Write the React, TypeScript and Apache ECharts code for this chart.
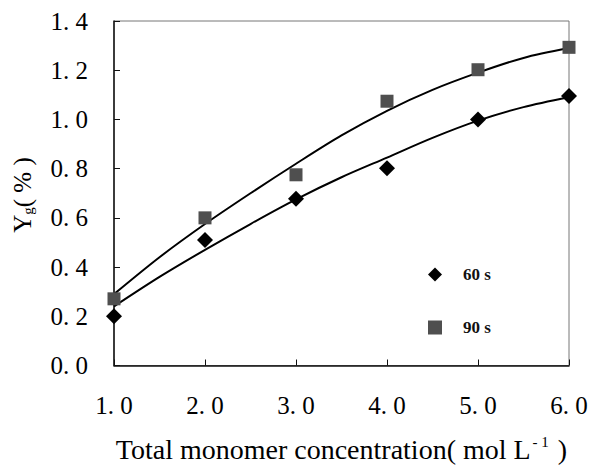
import React, { useEffect, useRef } from "react";
import * as echarts from "echarts";

// Measured grafting yields at each total monomer concentration
const concentrations = [1, 2, 3, 4, 5, 6];
const yield60s = [0.2, 0.51, 0.678, 0.802, 1.0, 1.095];
const yield90s = [0.271, 0.6, 0.775, 1.074, 1.202, 1.293];

// Trend curves drawn through each data set
const curveX = [1, 1.5, 2, 2.5, 3, 3.5, 4, 4.5, 5, 5.5, 6];
const curve60s = [0.24, 0.36, 0.47, 0.575, 0.675, 0.765, 0.845, 0.925, 0.995, 1.05, 1.09];
const curve90s = [0.29, 0.44, 0.575, 0.7, 0.82, 0.935, 1.035, 1.12, 1.19, 1.25, 1.29];

const SERIF = "'Liberation Serif', 'Times New Roman', serif";

const fmtTick = (v: number) => v.toFixed(1).replace(".", ".\u00a0");

export default function App() {
  const ref = useRef<HTMLDivElement>(null);

  useEffect(() => {
    if (!ref.current) return;
    const chart = echarts.init(ref.current, undefined, { renderer: "svg" });
    const pairs = (xs: number[], ys: number[]) => xs.map((x, i) => [x, ys[i]]);

    chart.setOption({
      animation: false,
      backgroundColor: "#fff",
      grid: {
        left: 114,
        right: 22,
        top: 21,
        bottom: 98,
        show: true,
        borderColor: "#777",
        borderWidth: 1,
      },
      legend: {
        data: ["60 s", "90 s"],
        orient: "vertical",
        left: 423,
        top: 261,
        itemGap: 36,
        itemWidth: 14,
        itemHeight: 14,
        textStyle: {
          fontFamily: SERIF,
          fontWeight: "bold",
          fontSize: 17,
          color: "#111",
          padding: [0, 0, 0, 16],
        },
      },
      xAxis: {
        type: "value",
        min: 1,
        max: 6,
        interval: 1,
        name: "{t|Total monomer concentration( mol L}{s|- 1}{t| )}",
        nameLocation: "middle",
        nameGap: 69,
        nameTextStyle: {
          rich: {
            t: { fontFamily: SERIF, fontSize: 28, color: "#000" },
            s: { fontFamily: SERIF, fontSize: 15, color: "#000", padding: [0, 2, 14, 2] },
          },
        },
        axisLine: { show: true, lineStyle: { color: "#111", width: 1.5 } },
        axisTick: { show: true, inside: true, length: 6, lineStyle: { color: "#111" } },
        axisLabel: {
          formatter: fmtTick,
          fontFamily: SERIF,
          fontSize: 25,
          color: "#000",
          margin: 27,
        },
        splitLine: { show: false },
      },
      yAxis: {
        type: "value",
        min: 0,
        max: 1.4,
        interval: 0.2,
        axisLine: { show: true, lineStyle: { color: "#111", width: 1.5 } },
        axisTick: { show: true, inside: true, length: 6, lineStyle: { color: "#111" } },
        axisLabel: {
          formatter: fmtTick,
          fontFamily: SERIF,
          fontSize: 25,
          color: "#000",
          margin: 26,
          padding: [8, 0, 0, 0],
        },
        splitLine: { show: false },
      },
      graphic: [
        {
          type: "text",
          x: 22,
          y: 195,
          rotation: Math.PI / 2,
          style: {
            text: "{a|Y}{b|g}{a|( % )}",
            align: "center",
            verticalAlign: "middle",
            rich: {
              a: { fontFamily: SERIF, fontSize: 25, fill: "#000" },
              b: { fontFamily: SERIF, fontSize: 15, fill: "#000", padding: [12, 0, 0, 0] },
            },
          },
        },
      ],
      series: [
        {
          name: "fit60",
          type: "line",
          data: pairs(curveX, curve60s),
          smooth: 0.3,
          showSymbol: false,
          lineStyle: { color: "#000", width: 2 },
          silent: true,
          z: 2,
        },
        {
          name: "fit90",
          type: "line",
          data: pairs(curveX, curve90s),
          smooth: 0.3,
          showSymbol: false,
          lineStyle: { color: "#000", width: 2 },
          silent: true,
          z: 2,
        },
        {
          name: "60 s",
          type: "scatter",
          data: pairs(concentrations, yield60s),
          symbol: "diamond",
          symbolSize: 16,
          itemStyle: { color: "#000", opacity: 1 },
          z: 3,
        },
        {
          name: "90 s",
          type: "scatter",
          data: pairs(concentrations, yield90s),
          symbol: "rect",
          symbolSize: 13,
          itemStyle: { color: "#4f4f4f", opacity: 1 },
          z: 3,
        },
      ],
    });

    return () => chart.dispose();
  }, []);

  return (
    <div
      ref={ref}
      style={{ position: "fixed", left: 0, top: 0, width: 591, height: 468 }}
    />
  );
}
